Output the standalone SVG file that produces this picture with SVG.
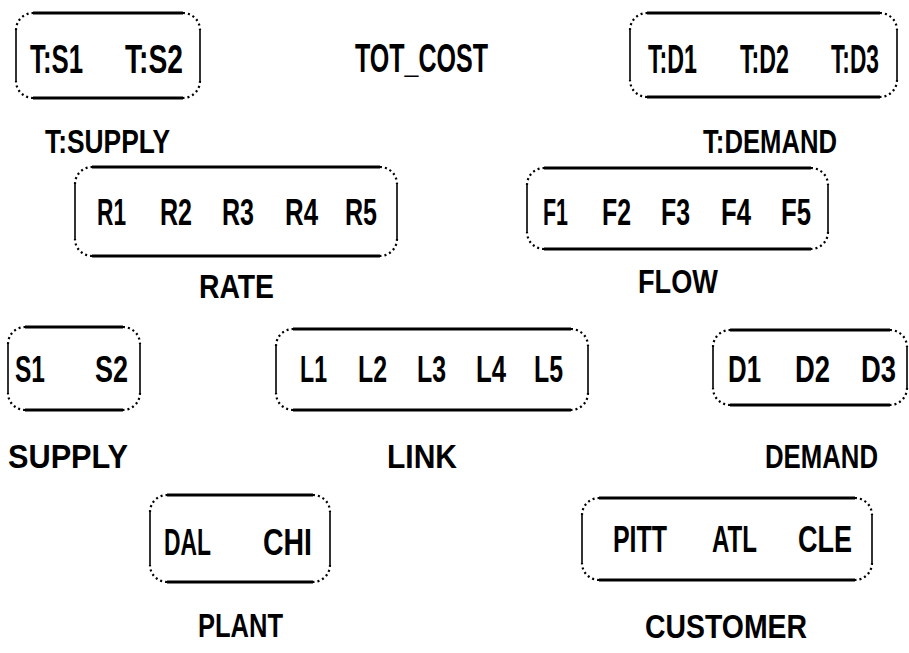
<svg xmlns="http://www.w3.org/2000/svg" width="909" height="653" viewBox="0 0 909 653">
<style>
.h{fill:none;stroke:#000;stroke-width:3;stroke-linecap:butt}
.v{fill:none;stroke:#000;stroke-width:1.6}
.c{fill:none;stroke:#000;stroke-width:2.2;stroke-dasharray:2 3}
text{font-family:"Liberation Sans",Arial,sans-serif;font-weight:bold;fill:#000}
.in{font-size:36px}
.tin{font-size:40px}
.lb{font-size:33px}
</style>
<rect width="909" height="653" fill="#fff"/>
<g id="connectors"/>
<g id="tsupply">
<path class="h" d="M33 13H183M33 98H183"/>
<path class="v" d="M16 30V81M200 30V81"/>
<path class="c" d="M16 30A17 17 0 0 1 33 13M183 13A17 17 0 0 1 200 30M200 81A17 17 0 0 1 183 98M33 98A17 17 0 0 1 16 81"/>
<text class="tin" x="30" y="73" textLength="53" lengthAdjust="spacingAndGlyphs">T:S1</text>
<text class="tin" x="125" y="73" textLength="58" lengthAdjust="spacingAndGlyphs">T:S2</text>
<text class="lb" x="45" y="153" textLength="125" lengthAdjust="spacingAndGlyphs">T:SUPPLY</text>
</g>
<g id="totcost">
<text class="tin" x="355" y="72" textLength="133" lengthAdjust="spacingAndGlyphs">TOT_COST</text>
</g>
<g id="tdemand">
<path class="h" d="M647 13H880M647 97H880"/>
<path class="v" d="M630 30V80M897 30V80"/>
<path class="c" d="M630 30A17 17 0 0 1 647 13M880 13A17 17 0 0 1 897 30M897 80A17 17 0 0 1 880 97M647 97A17 17 0 0 1 630 80"/>
<text class="tin" x="648" y="73" textLength="49" lengthAdjust="spacingAndGlyphs">T:D1</text>
<text class="tin" x="740" y="73" textLength="49" lengthAdjust="spacingAndGlyphs">T:D2</text>
<text class="tin" x="831" y="73" textLength="48" lengthAdjust="spacingAndGlyphs">T:D3</text>
<text class="lb" x="703" y="153" textLength="134" lengthAdjust="spacingAndGlyphs">T:DEMAND</text>
</g>
<g id="rate">
<path class="h" d="M92 167H380M92 256H380"/>
<path class="v" d="M75 184V239M397 184V239"/>
<path class="c" d="M75 184A17 17 0 0 1 92 167M380 167A17 17 0 0 1 397 184M397 239A17 17 0 0 1 380 256M92 256A17 17 0 0 1 75 239"/>
<text class="in" x="97" y="225" textLength="29" lengthAdjust="spacingAndGlyphs">R1</text>
<text class="in" x="160" y="225" textLength="32" lengthAdjust="spacingAndGlyphs">R2</text>
<text class="in" x="222" y="225" textLength="32" lengthAdjust="spacingAndGlyphs">R3</text>
<text class="in" x="285" y="225" textLength="33" lengthAdjust="spacingAndGlyphs">R4</text>
<text class="in" x="345" y="225" textLength="32" lengthAdjust="spacingAndGlyphs">R5</text>
<text class="lb" x="199" y="298" textLength="75" lengthAdjust="spacingAndGlyphs">RATE</text>
</g>
<g id="flow">
<path class="h" d="M544 168H811M544 249H811"/>
<path class="v" d="M527 185V232M828 185V232"/>
<path class="c" d="M527 185A17 17 0 0 1 544 168M811 168A17 17 0 0 1 828 185M828 232A17 17 0 0 1 811 249M544 249A17 17 0 0 1 527 232"/>
<text class="in" x="543" y="225" textLength="25" lengthAdjust="spacingAndGlyphs">F1</text>
<text class="in" x="602" y="225" textLength="29" lengthAdjust="spacingAndGlyphs">F2</text>
<text class="in" x="661" y="225" textLength="29" lengthAdjust="spacingAndGlyphs">F3</text>
<text class="in" x="721" y="225" textLength="30" lengthAdjust="spacingAndGlyphs">F4</text>
<text class="in" x="781" y="225" textLength="30" lengthAdjust="spacingAndGlyphs">F5</text>
<text class="lb" x="638" y="293" textLength="80" lengthAdjust="spacingAndGlyphs">FLOW</text>
</g>
<g id="supply">
<path class="h" d="M25 327H123M25 410H123"/>
<path class="v" d="M8 344V393M140 344V393"/>
<path class="c" d="M8 344A17 17 0 0 1 25 327M123 327A17 17 0 0 1 140 344M140 393A17 17 0 0 1 123 410M25 410A17 17 0 0 1 8 393"/>
<text class="in" x="15" y="382" textLength="30" lengthAdjust="spacingAndGlyphs">S1</text>
<text class="in" x="95" y="382" textLength="33" lengthAdjust="spacingAndGlyphs">S2</text>
<text class="lb" x="8" y="468" textLength="120" lengthAdjust="spacingAndGlyphs">SUPPLY</text>
</g>
<g id="link">
<path class="h" d="M293 329H571M293 410H571"/>
<path class="v" d="M276 346V393M588 346V393"/>
<path class="c" d="M276 346A17 17 0 0 1 293 329M571 329A17 17 0 0 1 588 346M588 393A17 17 0 0 1 571 410M293 410A17 17 0 0 1 276 393"/>
<text class="in" x="300" y="382" textLength="27" lengthAdjust="spacingAndGlyphs">L1</text>
<text class="in" x="358" y="382" textLength="29" lengthAdjust="spacingAndGlyphs">L2</text>
<text class="in" x="417" y="382" textLength="29" lengthAdjust="spacingAndGlyphs">L3</text>
<text class="in" x="476" y="382" textLength="30" lengthAdjust="spacingAndGlyphs">L4</text>
<text class="in" x="534" y="382" textLength="29" lengthAdjust="spacingAndGlyphs">L5</text>
<text class="lb" x="387" y="468" textLength="70" lengthAdjust="spacingAndGlyphs">LINK</text>
</g>
<g id="demand">
<path class="h" d="M730 330H890M730 405H890"/>
<path class="v" d="M713 347V388M907 347V388"/>
<path class="c" d="M713 347A17 17 0 0 1 730 330M890 330A17 17 0 0 1 907 347M907 388A17 17 0 0 1 890 405M730 405A17 17 0 0 1 713 388"/>
<text class="in" x="728" y="382" textLength="33" lengthAdjust="spacingAndGlyphs">D1</text>
<text class="in" x="795" y="382" textLength="35" lengthAdjust="spacingAndGlyphs">D2</text>
<text class="in" x="861" y="382" textLength="35" lengthAdjust="spacingAndGlyphs">D3</text>
<text class="lb" x="765" y="468" textLength="113" lengthAdjust="spacingAndGlyphs">DEMAND</text>
</g>
<g id="plant">
<path class="h" d="M167 495H313M167 582H313"/>
<path class="v" d="M150 512V565M330 512V565"/>
<path class="c" d="M150 512A17 17 0 0 1 167 495M313 495A17 17 0 0 1 330 512M330 565A17 17 0 0 1 313 582M167 582A17 17 0 0 1 150 565"/>
<text class="in" x="164" y="555" textLength="47" lengthAdjust="spacingAndGlyphs">DAL</text>
<text class="in" x="263" y="555" textLength="49" lengthAdjust="spacingAndGlyphs">CHI</text>
<text class="lb" x="198" y="637" textLength="85" lengthAdjust="spacingAndGlyphs">PLANT</text>
</g>
<g id="customer">
<path class="h" d="M599 498H855M599 580H855"/>
<path class="v" d="M582 515V563M872 515V563"/>
<path class="c" d="M582 515A17 17 0 0 1 599 498M855 498A17 17 0 0 1 872 515M872 563A17 17 0 0 1 855 580M599 580A17 17 0 0 1 582 563"/>
<text class="in" x="613" y="552" textLength="54" lengthAdjust="spacingAndGlyphs">PITT</text>
<text class="in" x="712" y="552" textLength="45" lengthAdjust="spacingAndGlyphs">ATL</text>
<text class="in" x="798" y="552" textLength="54" lengthAdjust="spacingAndGlyphs">CLE</text>
<text class="lb" x="645" y="638" textLength="162" lengthAdjust="spacingAndGlyphs">CUSTOMER</text>
</g>
</svg>
